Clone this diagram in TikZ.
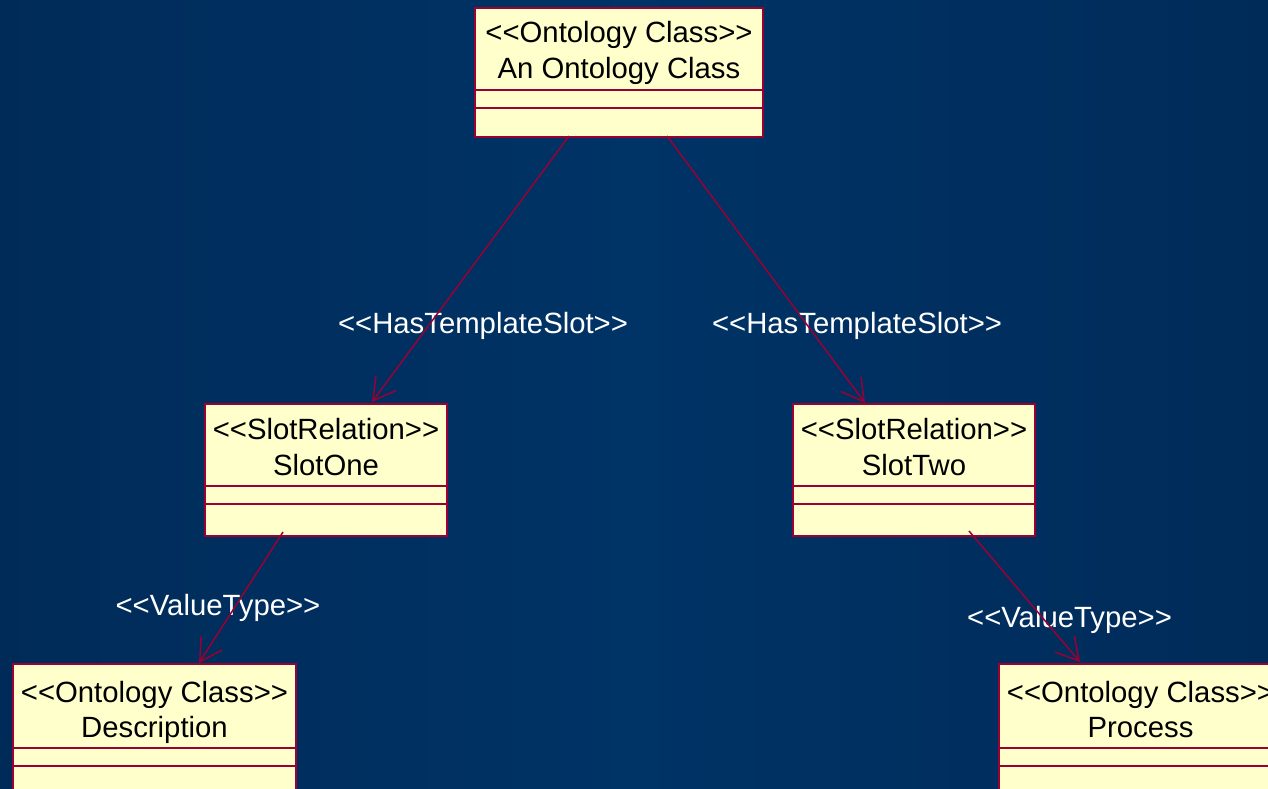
\documentclass[tikz,border=0pt]{standalone}
\usepackage{fontspec}
\setmainfont{Liberation Sans}
\usetikzlibrary{arrows.meta}
\definecolor{bgE}{RGB}{0,22,50}
\definecolor{bgQ}{RGB}{0,38,80}
\definecolor{bgM}{RGB}{0,51,102}
\definecolor{boxfill}{RGB}{255,255,204}
\definecolor{boxline}{RGB}{153,0,51}
\pgfdeclarehorizontalshading{bgshade}{100bp}{color(0bp)=(bgE); color(8bp)=(bgQ); color(50bp)=(bgM); color(92bp)=(bgQ); color(100bp)=(bgE)}
\newcommand{\LL}{{<}{<}}
\newcommand{\GG}{{>}{>}}
\begin{document}
\begin{tikzpicture}[x=1pt,y=-1pt,
  umlbox/.style={draw=boxline, fill=boxfill, line width=2.4pt, inner sep=0pt, outer sep=0pt},
  comp/.style={draw=boxline, line width=2.4pt},
  boxtext/.style={anchor=base, inner sep=0pt, font=\fontsize{29.3}{35}\selectfont, text=black},
  lbl/.style={anchor=base, inner sep=0pt, font=\fontsize{29.3}{35}\selectfont, text=white},
  conn/.style={draw=boxline, line width=1.5pt, -{Straight Barb[length=22pt,width=25pt]}}]
\useasboundingbox (0,0) rectangle (1268,789);
\clip (0,0) rectangle (1268,789);
\shade[shading=bgshade] (0,0) rectangle (1268,789);

% boxes
\node[umlbox, minimum width=288pt, minimum height=129pt] (top) at (619,72.5) {};
\node[umlbox, minimum width=242pt, minimum height=132pt] (slotone) at (326,470) {};
\node[umlbox, minimum width=242pt, minimum height=132pt] (slottwo) at (914,470) {};
\node[umlbox, minimum width=283pt, minimum height=129pt] (desc) at (154.5,728.5) {};
\node[umlbox, minimum width=283pt, minimum height=129pt] (proc) at (1140.5,728.5) {};

% compartments
\foreach \b/\a/\c in {top/82/100, slotone/82/100, slottwo/82/100, desc/84/102, proc/84/102} {
  \draw[comp] ([yshift=-\a pt]\b.north west) -- ([yshift=-\a pt]\b.north east);
  \draw[comp] ([yshift=-\c pt]\b.north west) -- ([yshift=-\c pt]\b.north east);
}

% box texts
\node[boxtext] (topA) at (619,43) {\LL Ontology Class\GG};
\node[boxtext] (topB) at (619,79) {An Ontology Class};
\node[boxtext] (slotoneA) at (326,439) {\LL SlotRelation\GG};
\node[boxtext] (slotoneB) at (326,475) {SlotOne};
\node[boxtext] (slottwoA) at (914,439) {\LL SlotRelation\GG};
\node[boxtext] (slottwoB) at (914,475) {SlotTwo};
\node[boxtext] (descA) at (154.5,702) {\LL Ontology Class\GG};
\node[boxtext] (descB) at (154.5,737) {Description};
\node[boxtext] (procA) at (1140.5,702) {\LL Ontology Class\GG};
\node[boxtext] (procB) at (1140.5,737) {Process};

% connector labels
\node[lbl] (l1) at (483,333) {\LL HasTemplateSlot\GG};
\node[lbl] (l2) at (857,333) {\LL HasTemplateSlot\GG};
\node[lbl] (l3) at (218,615) {\LL ValueType\GG};
\node[lbl] (l4) at (1069.5,627) {\LL ValueType\GG};

% connectors
\draw[conn] ([xshift=-50pt,yshift=1pt]top.south) -- ([xshift=46pt,yshift=2pt]slotone.north);
\draw[conn] ([xshift=48pt,yshift=1pt]top.south) -- ([xshift=-49pt,yshift=1pt]slottwo.north);
\draw[conn] ([xshift=-43pt,yshift=4pt]slotone.south) -- ([xshift=44.5pt,yshift=1pt]desc.north);
\draw[conn] ([xshift=55pt,yshift=5pt]slottwo.south) -- ([xshift=-60.5pt,yshift=2pt]proc.north);
\end{tikzpicture}
\end{document}
